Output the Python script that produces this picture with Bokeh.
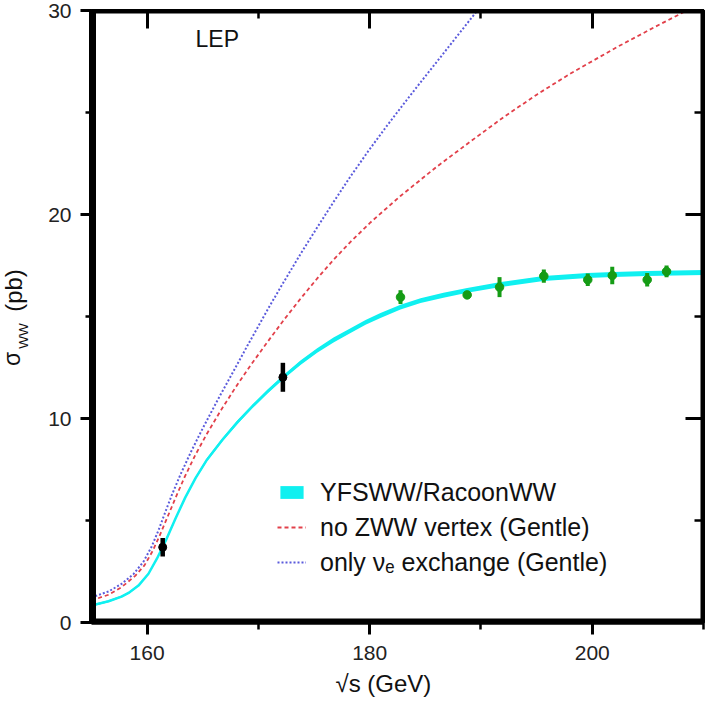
import math
from bokeh.plotting import figure
from bokeh.layouts import row
from bokeh.models import (LinearAxis, SingleIntervalTicker, Range1d, Label, Title,
                          Legend, LegendItem, Span)
from bokeh.embed import file_html
from bokeh.resources import INLINE

# ---------------- data ----------------
# YFSWW/RacoonWW prediction (band centre and half-width), sqrt(s) in GeV, sigma in pb
cyan_x = [155.00, 156.53, 157.70, 158.33, 159.22, 160.12, 160.89, 161.68, 162.55,
          163.42, 164.35, 165.38, 166.77, 168.12, 169.47, 170.82, 172.23, 173.78,
          175.28, 176.75, 178.28, 179.63, 180.97, 182.77, 184.57, 186.63, 188.76,
          191.78, 195.62, 199.58, 201.91, 204.97, 210.00]
cyan_y = [0.83, 1.04, 1.27, 1.45, 1.81, 2.39, 3.14, 4.02, 5.10,
          6.12, 7.08, 7.98, 8.96, 9.82, 10.60, 11.32, 12.02, 12.73,
          13.33, 13.85, 14.31, 14.71, 15.05, 15.46, 15.78, 16.04, 16.28,
          16.57, 16.86, 17.01, 17.06, 17.11, 17.16]
cyan_hw = [0.05, 0.05, 0.05, 0.05, 0.05, 0.05, 0.05, 0.07, 0.07,
           0.07, 0.07, 0.08, 0.08, 0.09, 0.09, 0.10, 0.10, 0.11,
           0.11, 0.12, 0.12, 0.12, 0.12, 0.12, 0.12, 0.12, 0.12,
           0.12, 0.12, 0.12, 0.12, 0.12, 0.12]

# no ZWW vertex (Gentle)
red_x = [155.00, 156.53, 157.70, 158.95, 159.76, 160.48, 161.11, 161.83, 162.52,
         163.36, 164.32, 165.34, 166.59, 167.94, 169.29, 170.73, 172.26, 173.78,
         175.31, 176.75, 178.28, 180.07, 182.77, 186.07, 189.06, 192.03, 195.08,
         198.05, 202.27, 205.69, 210.00]
red_y = [1.08, 1.36, 1.73, 2.30, 2.80, 3.49, 4.24, 5.17, 6.07,
         7.12, 8.20, 9.22, 10.37, 11.52, 12.60, 13.69, 14.81, 15.87,
         16.88, 17.78, 18.66, 19.61, 20.91, 22.36, 23.58, 24.77, 25.90,
         26.91, 28.22, 29.21, 30.42]

# only nu_e exchange (Gentle)
blue_x = [155.00, 156.53, 157.70, 158.77, 159.67, 160.39, 161.02, 161.61, 162.22,
          163.00, 163.90, 164.80, 165.69, 166.59, 167.76, 169.02, 170.82, 171.99,
          173.78, 175.31, 176.75, 178.28, 179.89, 181.51, 183.04, 184.57, 186.10,
          187.98, 189.78, 190.50]
blue_y = [1.23, 1.52, 1.89, 2.37, 2.98, 3.70, 4.52, 5.38, 6.25,
          7.26, 8.32, 9.31, 10.24, 11.16, 12.32, 13.58, 15.33, 16.43,
          18.06, 19.39, 20.61, 21.87, 23.12, 24.32, 25.41, 26.48, 27.53,
          28.83, 30.07, 30.57]

# LEP measurements (green)
lep_x = [182.77, 188.76, 191.67, 195.65, 199.60, 201.80, 204.94, 206.68]
lep_y = [15.95, 16.06, 16.44, 16.98, 16.80, 17.01, 16.80, 17.21]
lep_err = [0.34, 0.12, 0.49, 0.33, 0.31, 0.43, 0.33, 0.29]

# early LEP measurements (black)
early_x = [161.40, 172.20]
early_y = [3.69, 12.02]
early_err = [0.45, 0.71]

x_ticks_interval = 20
y_ticks_interval = 10
legend_labels = ["YFSWW/RacoonWW", "no ZWW vertex (Gentle)",
                 "only \u03bd\u2091 exchange (Gentle)"]

# ---------------- styling ----------------
FONT = "Liberation Sans"
CYAN = "#10f0f0"
RED = "#e2404a"
BLUE = "#5b5bdc"
GREEN = "#159c15"
TXT = "#111111"

H = 704
LW = 38          # width of the strip holding the rotated y title
F_TOP, F_BOT = 10, 622   # frame edges (px from top); the row aligns both frames

# ---------------- y-title strip ----------------
yt = figure(width=LW, height=H, x_range=Range1d(0, LW), y_range=Range1d(F_BOT, F_TOP),
            x_axis_location=None, y_axis_location=None,
            output_backend="svg", toolbar_location=None,
            min_border_left=0, min_border_right=0, min_border_top=F_TOP,
            min_border_bottom=H - F_BOT)
yt.xgrid.visible = False
yt.ygrid.visible = False
yt.outline_line_color = None
for txt, xs, ys, fs in [("\u03c3", 11.5, 358.5, "23px"), ("WW", 23, 335.5, "13.5px"),
                        ("(pb)", 12.5, 290, "24px")]:
    yt.add_layout(Label(x=xs, y=ys, text=txt, angle=math.pi / 2,
                        text_font=FONT, text_font_size=fs, text_color=TXT,
                        text_align="center", text_baseline="middle"))

# ---------------- main figure ----------------
p = figure(width=706 - LW, height=H, x_range=Range1d(155, 210), y_range=Range1d(0, 30),
           output_backend="svg", toolbar_location=None,
           min_border_left=91 - LW, min_border_right=3, min_border_top=F_TOP,
           min_border_bottom=H - F_BOT)
p.background_fill_color = "white"
p.border_fill_color = "white"
p.xgrid.visible = False
p.ygrid.visible = False
p.outline_line_color = "black"
p.outline_line_width = 3

xb = p.xaxis[0]
xb.ticker = SingleIntervalTicker(interval=x_ticks_interval, num_minor_ticks=2)
yl = p.yaxis[0]
yl.ticker = SingleIntervalTicker(interval=y_ticks_interval, num_minor_ticks=2)
for ax, maj, mnr, lw in [(xb, 12, 7, 4.5), (yl, 11, 6, 5)]:
    ax.major_tick_out = maj
    ax.major_tick_in = 0
    ax.minor_tick_out = mnr
    ax.minor_tick_in = 0
    ax.major_tick_line_width = 3
    ax.minor_tick_line_width = 2.5
    ax.major_tick_line_color = "black"
    ax.minor_tick_line_color = "black"
    ax.axis_line_width = lw
    ax.axis_line_color = "black"
    ax.major_label_text_font = FONT
    ax.major_label_text_font_size = "21px"
    ax.major_label_text_color = "#222222"
    ax.axis_label = None
xb.major_label_standoff = 11
yl.major_label_standoff = 9

top = LinearAxis(ticker=SingleIntervalTicker(interval=x_ticks_interval, num_minor_ticks=2),
                 major_tick_in=18, major_tick_out=0, minor_tick_in=8, minor_tick_out=0,
                 major_tick_line_width=3, minor_tick_line_width=2.5,
                 axis_line_color="black", axis_line_width=3,
                 major_label_text_font_size="1px", major_label_text_color=None,
                 major_label_standoff=0)
right = LinearAxis(ticker=SingleIntervalTicker(interval=y_ticks_interval, num_minor_ticks=2),
                   major_tick_in=18, major_tick_out=0, minor_tick_in=9, minor_tick_out=0,
                   major_tick_line_width=3, minor_tick_line_width=2.5,
                   axis_line_color="black", axis_line_width=3,
                   major_label_text_font_size="1px", major_label_text_color=None,
                   major_label_standoff=0)
p.add_layout(top, "above")
p.add_layout(right, "right")

# heavy frame edges (drawn above the plot background)
for loc, dim, w in [(155, "height", 9), (210, "height", 6), (0, "width", 8), (30, "width", 6)]:
    p.add_layout(Span(location=loc, dimension=dim, line_color="black", line_width=w))

# x-axis title, placed a little left of the frame centre as in the original
p.add_layout(Title(text="\u221as (GeV)", align="left", offset=244,
                   text_font=FONT, text_font_size="24px", text_font_style="normal",
                   text_color=TXT, standoff=11), "below")

# ---------------- curves ----------------
lo = [c - h for c, h in zip(cyan_y, cyan_hw)]
hi = [c + h for c, h in zip(cyan_y, cyan_hw)]
r_band = p.varea(x=cyan_x, y1=lo, y2=hi, fill_color=CYAN)
p.line(x=cyan_x, y=cyan_y, line_color=CYAN, line_width=2.5)
r_red = p.line(x=red_x, y=red_y, line_color=RED, line_width=1.8, line_dash="4 3")
r_blue = p.line(x=blue_x, y=blue_y, line_color=BLUE, line_width=2, line_dash="2 2")

# ---------------- data points ----------------
p.segment(x0=lep_x, y0=[y - e for y, e in zip(lep_y, lep_err)],
          x1=lep_x, y1=[y + e for y, e in zip(lep_y, lep_err)],
          line_color=GREEN, line_width=4)
p.scatter(x=lep_x, y=lep_y, size=8.5, marker="circle", fill_color=GREEN, line_color=GREEN)
p.segment(x0=early_x, y0=[y - e for y, e in zip(early_y, early_err)],
          x1=early_x, y1=[y + e for y, e in zip(early_y, early_err)],
          line_color="black", line_width=4.5)
p.scatter(x=early_x, y=early_y, size=8, marker="circle", fill_color="black", line_color="black")

# ---------------- legend ----------------
legend = Legend(items=[LegendItem(label=legend_labels[0], renderers=[r_band]),
                       LegendItem(label=legend_labels[1], renderers=[r_red]),
                       LegendItem(label=legend_labels[2], renderers=[r_blue])],
                location=(186, 45), padding=0, margin=0, spacing=5,
                label_height=30, glyph_height=16, glyph_width=29, label_standoff=14,
                label_text_font=FONT, label_text_font_size="25px",
                label_text_color=TXT,
                border_line_color=None, background_fill_alpha=0)
p.add_layout(legend)

# ---------------- LEP tag ----------------
p.add_layout(Label(x=164.35, y=28.58, text="LEP", text_font=FONT,
                   text_font_size="23px", text_color=TXT,
                   text_align="left", text_baseline="alphabetic"))

layout = row(yt, p, spacing=0)
open("out.html", "w").write(file_html(layout, INLINE))
